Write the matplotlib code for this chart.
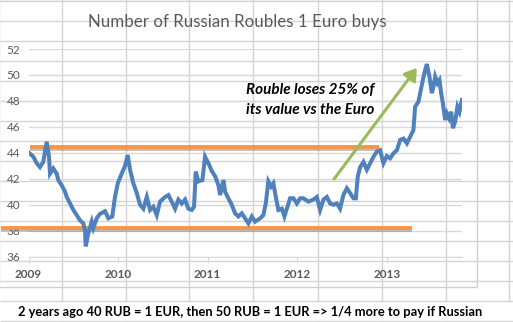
import matplotlib
matplotlib.use("Agg")
import matplotlib.pyplot as plt
import matplotlib.patheffects as pe
from matplotlib.patches import Rectangle, FancyArrowPatch

# EUR/RUB rate (decimal year, roubles per euro)
years = [
    2009.006, 2009.054, 2009.092, 2009.128, 2009.165, 2009.203, 2009.229, 2009.240,
    2009.277, 2009.315, 2009.333, 2009.371, 2009.408, 2009.427, 2009.464, 2009.501,
    2009.539, 2009.575, 2009.612, 2009.631, 2009.639, 2009.668, 2009.706, 2009.724,
    2009.762, 2009.799, 2009.855, 2009.892, 2009.936, 2009.966, 2009.997, 2010.041,
    2010.078, 2010.108, 2010.134, 2010.171, 2010.209, 2010.246, 2010.283, 2010.321,
    2010.358, 2010.394, 2010.432, 2010.469, 2010.525, 2010.562, 2010.600, 2010.637,
    2010.674, 2010.712, 2010.749, 2010.785, 2010.823, 2010.849, 2010.868, 2010.897,
    2010.942, 2010.972, 2011.009, 2011.047, 2011.084, 2011.121, 2011.140, 2011.177,
    2011.196, 2011.232, 2011.270, 2011.307, 2011.344, 2011.382, 2011.419, 2011.456,
    2011.494, 2011.531, 2011.587, 2011.623, 2011.650, 2011.679, 2011.709, 2011.735,
    2011.762, 2011.791, 2011.829, 2011.858, 2011.885, 2011.922, 2011.959, 2011.997,
    2012.034, 2012.070, 2012.126, 2012.182, 2012.220, 2012.257, 2012.294, 2012.332,
    2012.369, 2012.406, 2012.444, 2012.480, 2012.517, 2012.555, 2012.592, 2012.629,
    2012.656, 2012.678, 2012.704, 2012.741, 2012.779, 2012.816, 2012.853, 2012.891,
    2012.927, 2012.964, 2013.002, 2013.039, 2013.076, 2013.114, 2013.151, 2013.188,
    2013.226, 2013.263, 2013.299, 2013.318, 2013.355, 2013.374, 2013.404, 2013.430,
    2013.449, 2013.478, 2013.505, 2013.523, 2013.542, 2013.568, 2013.590, 2013.609,
    2013.628, 2013.654, 2013.673, 2013.698, 2013.721, 2013.740, 2013.765, 2013.791,
    2013.813, 2013.840,
]
rub_per_eur = [
    44.0, 43.7, 43.2, 42.9, 43.3, 44.86, 43.7, 42.4,
    42.8, 42.4, 41.9, 41.5, 41.0, 40.6, 40.1, 39.6,
    39.2, 38.8, 38.57, 38.05, 36.8, 37.8, 38.7, 38.2,
    38.96, 39.3, 39.5, 38.96, 39.1, 40.6, 41.65, 42.4,
    43.0, 43.83, 42.7, 41.65, 40.9, 40.0, 39.7, 40.6,
    39.6, 39.85, 39.2, 40.24, 40.6, 40.75, 40.24, 39.7,
    40.4, 40.1, 40.4, 39.7, 39.6, 39.85, 42.55, 41.8,
    41.9, 43.7, 43.2, 42.6, 42.2, 41.5, 40.75, 41.9,
    41.0, 40.5, 40.0, 39.34, 39.1, 39.34, 38.96, 38.57,
    39.1, 38.7, 38.96, 39.2, 40.1, 41.8, 41.4, 41.65,
    40.6, 39.6, 39.7, 39.1, 39.7, 40.5, 40.5, 40.1,
    40.5, 40.5, 40.24, 40.4, 40.6, 39.6, 40.4, 40.6,
    40.1, 40.0, 40.1, 39.7, 40.75, 41.27, 40.9, 40.5,
    40.5, 42.2, 42.9, 43.3, 42.7, 43.2, 43.7, 44.1,
    44.2, 43.2, 43.75, 43.58, 43.96, 44.2, 45.0, 45.1,
    44.73, 45.24, 45.76, 47.55, 47.94, 48.6, 49.6, 50.38,
    50.84, 49.87, 48.6, 49.1, 49.87, 49.36, 49.6, 48.6,
    47.82, 46.53, 47.04, 46.66, 47.17, 45.9, 46.4, 47.55,
    47.17, 48.07,
]

year_ticks = [2009, 2010, 2011, 2012, 2013]
y_ticks = [36, 38, 40, 42, 44, 46, 48, 50, 52]

# annotation shapes (level lines and trend arrow), in data units
high_level = 44.45
high_span = (2009.017, 2012.916)
low_level = 38.19
low_span = (2008.69, 2013.285)
arrow_from = (2012.413, 41.985)
arrow_to = (2013.337, 50.54)

title = "Number of Russian Roubles 1 Euro buys"
note = ["Rouble loses 25% of", "its value vs the Euro"]
footer = "2 years ago 40 RUB = 1 EUR, then 50 RUB = 1 EUR => 1/4 more to pay if Russian"

W, H = 513, 322
fig = plt.figure(figsize=(W / 100, H / 100), dpi=100)
fig.patch.set_facecolor("white")

# spreadsheet background with cell lines
bg = fig.add_axes([0, 0, 1, 1])
bg.set_xlim(0, W)
bg.set_ylim(H, 0)
bg.axis("off")
cell = "#d4d4d4"
for y in range(0, 322, 20):
    bg.plot([0, W], [y + 0.7, y + 0.7], color=cell, lw=1, solid_capstyle="butt")
for x in [61.7, 125.7, 189.3, 253.3, 317.7, 381.7, 445.7, 509.3]:
    bg.plot([x, x], [0, 300.7], color=cell, lw=1)
    bg.plot([x, x], [320.7, H], color=cell, lw=1)
bg.add_patch(Rectangle((-1, -1), 478.3, 288.3, facecolor="white", edgecolor="#d0d0d0", lw=1))
bg.text(18, 311.5, footer, fontsize=9.3, fontweight="bold", family="Lato",
        color="black", ha="left", va="center")

# chart
ax = fig.add_axes([28.5 / W, 1 - 256.7 / H, (462.3 - 28.5) / W, (256.7 - 49) / H])
ax.set_facecolor("none")
ax.set_xlim(2009, 2013.845)
ax.set_ylim(36, 52)
ax.set_yticks(y_ticks)
ax.set_xticks(year_ticks)
ax.set_xticklabels([str(y) for y in year_ticks])
ax.grid(axis="y", color="#d9d9d9", lw=1)
ax.set_axisbelow(True)
for s in ["top", "right", "left"]:
    ax.spines[s].set_visible(False)
ax.spines["bottom"].set_color("#d9d9d9")
ax.tick_params(axis="y", length=0, pad=6, labelsize=8.5, labelcolor="#595959")
ax.tick_params(axis="x", length=4, color="#d9d9d9", pad=5, labelsize=8.5, labelcolor="#595959")
for lab in ax.get_xticklabels() + ax.get_yticklabels():
    lab.set_family("Lato")
for lab in ax.get_xticklabels():
    lab.set_fontweight("bold")

shadow = [pe.SimpleLineShadow(offset=(0, -1.5), shadow_color="#7f7f7f", alpha=0.5), pe.Normal()]
ax.plot(high_span, [high_level, high_level], color="#f79646", lw=2.8,
        solid_capstyle="butt", path_effects=shadow, zorder=3)
ax.plot(low_span, [low_level, low_level], color="#f79646", lw=2.8,
        solid_capstyle="butt", path_effects=shadow, zorder=3, clip_on=False)

ax.plot(years, rub_per_eur, color="#4f81bd", lw=2.9, solid_joinstyle="miter", zorder=4)

arr = FancyArrowPatch(arrow_from, arrow_to, arrowstyle="-|>,head_length=7,head_width=4.5",
                      color="#9bbb59", lw=2.2, shrinkA=0, shrinkB=0, zorder=5,
                      path_effects=[pe.SimplePatchShadow(offset=(1, -1.5), alpha=0.3), pe.Normal()])
ax.add_patch(arr)

ax.text(2011.43, 48.84, note[0], fontsize=11, fontweight="bold", style="italic",
        family="Lato", color="black", ha="left", va="center", zorder=6)
ax.text(2011.43, 47.30, note[1], fontsize=11, fontweight="bold", style="italic",
        family="Lato", color="black", ha="left", va="center", zorder=6)

fig.text(237 / W, 1 - 22 / H, title, fontsize=12.2, family="Lato", color="#595959",
         ha="center", va="center")

fig.savefig("out.png", dpi=100)
